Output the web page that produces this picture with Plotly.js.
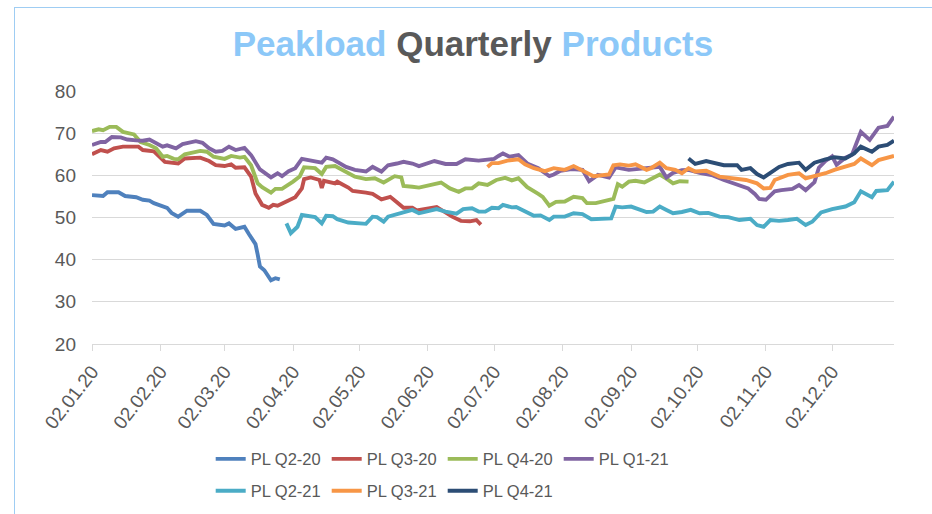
<!DOCTYPE html>
<html><head><meta charset="utf-8">
<script src="https://cdn.plot.ly/plotly-3.0.1.min.js"></script>
<style>
html,body{margin:0;padding:0;background:#fff;}
#wrap{position:relative;width:932px;height:514px;overflow:hidden;}
#chart{width:932px;height:514px;}
#frame{position:absolute;left:14px;top:7px;width:940px;height:560px;border:1px solid #9fcdf3;pointer-events:none;}
</style></head>
<body><div id="wrap"><div id="chart"></div><div id="frame"></div></div>
<script>
const tickDates = ['2020-01-02','2020-02-02','2020-03-02','2020-04-02','2020-05-02','2020-06-02','2020-07-02','2020-08-02','2020-09-02','2020-10-02','2020-11-02','2020-12-02'];
const tickLabels = ['02.01.20','02.02.20','02.03.20','02.04.20','02.05.20','02.06.20','02.07.20','02.08.20','02.09.20','02.10.20','02.11.20','02.12.20'];
const seriesNames = ['PL Q2-20','PL Q3-20','PL Q4-20','PL Q1-21','PL Q2-21','PL Q3-21','PL Q4-21'];

const q220Dates = ['01-02','01-07','01-09','01-14','01-17','01-22','01-25','01-28','01-30','02-05','02-07','02-10','02-14','02-20','02-23','02-26','03-02','03-04','03-07','03-11','03-13','03-16','03-17','03-18','03-20','03-23','03-25','03-27'];
const q220Values = [55.3,55.1,56.0,56.0,55.1,54.8,54.2,54.0,53.4,52.3,51.1,50.2,51.6,51.6,50.6,48.5,48.1,48.6,47.3,47.8,46.1,43.7,41.2,38.4,37.5,35.1,35.6,35.3];

const q320Dates = ['01-02','01-06','01-09','01-12','01-16','01-19','01-23','01-25','01-30','02-04','02-10','02-13','02-20','02-24','02-27','03-02','03-05','03-07','03-11','03-14','03-16','03-19','03-22','03-24','03-26','03-30','04-03','04-06','04-07','04-10','04-14','04-15','04-16','04-21','04-22','04-27','04-29','05-05','05-08','05-12','05-16','05-19','05-22','05-26','05-28','06-06','06-09','06-13','06-17','06-21','06-24','06-26'];
const q320Values = [65.0,66.0,65.6,66.4,66.8,66.8,66.8,66.0,65.7,63.2,62.8,64.0,64.2,63.4,62.4,62.2,62.6,61.8,61.9,59.7,55.7,53.0,52.3,53.0,52.8,53.8,54.8,56.9,59.1,59.5,58.9,57.0,58.7,58.1,58.5,57.1,56.3,55.9,55.6,54.3,54.9,53.6,52.3,52.3,51.7,52.5,51.5,50.2,49.2,49.1,49.4,48.3];

const q420Dates = ['01-02','01-05','01-07','01-10','01-13','01-16','01-21','01-24','01-28','01-31','02-03','02-05','02-08','02-10','02-13','02-20','02-23','02-26','03-02','03-05','03-09','03-11','03-14','03-17','03-19','03-23','03-25','03-28','04-02','04-05','04-07','04-12','04-15','04-17','04-21','04-26','04-30','05-05','05-09','05-13','05-18','05-21','05-22','05-26','05-29','06-08','06-12','06-16','06-19','06-22','06-25','06-29','07-03','07-07','07-10','07-13','07-17','07-22','07-24','07-27','07-30','08-03','08-07','08-11','08-13','08-17','08-23','08-25','08-27','08-29','09-01','09-04','09-08','09-12','09-15','09-18','09-21','09-24','09-28'];
const q420Values = [70.5,70.9,70.7,71.5,71.5,70.3,69.7,67.9,67.2,66.4,64.4,64.6,63.9,63.8,65.0,65.8,65.6,64.4,63.9,64.6,64.2,64.4,62.4,58.1,57.2,55.9,56.8,56.8,58.5,59.7,61.9,61.7,60.3,62.0,62.2,60.9,59.7,59.1,59.3,58.3,59.8,59.5,57.5,57.3,57.1,58.3,56.9,56.1,56.9,56.9,58.1,57.7,58.9,59.4,58.8,59.3,57.2,55.6,54.9,52.8,53.7,53.8,54.9,54.6,53.4,53.4,54.2,54.4,57.9,57.3,58.5,58.7,58.3,59.3,60.2,59.2,58.1,58.6,58.5];

const q121Dates = ['01-02','01-06','01-08','01-11','01-15','01-18','01-22','01-25','01-28','01-30','02-03','02-05','02-09','02-12','02-18','02-21','02-24','02-27','03-01','03-04','03-07','03-11','03-14','03-18','03-23','03-26','03-28','03-31','04-03','04-06','04-12','04-15','04-17','04-20','04-26','04-30','05-05','05-08','05-12','05-15','05-19','05-22','05-26','05-29','06-05','06-10','06-15','06-19','06-25','06-29','07-02','07-04','07-06','07-09','07-13','07-17','07-22','07-24','07-27','07-29','08-01','08-06','08-11','08-14','08-18','08-23','08-26','09-01','09-09','09-15','09-18','09-21','09-25','09-28','10-03','10-09','10-14','10-20','10-25','10-28','10-30','11-02','11-04','11-06','11-09','11-14','11-17','11-20','11-24','11-26','11-29','12-02','12-04','12-08','12-11','12-14','12-15','12-19','12-23','12-27','12-30'];
const q121Values = [67.2,67.9,67.9,69.1,69.0,68.5,68.3,68.2,68.5,67.9,66.8,67.1,66.4,67.4,68.1,67.7,66.4,65.6,65.8,66.8,66.0,66.5,64.8,61.4,59.5,60.5,59.8,61.0,61.7,63.9,63.4,63.0,64.2,63.8,62.0,61.3,60.9,62.0,60.9,62.4,62.8,63.2,62.8,62.2,63.4,62.7,62.7,63.8,63.5,63.6,63.9,64.6,65.2,64.4,64.8,62.8,61.7,60.9,59.8,60.2,61.1,61.5,61.3,58.6,60.1,59.5,61.9,61.3,61.7,62.0,59.5,60.6,61.2,61.3,60.6,60.0,58.9,57.8,56.9,55.6,54.4,54.2,55.3,56.2,56.5,56.8,57.7,56.5,58.4,61.8,63.4,64.5,62.5,64.2,64.9,69.1,70.3,68.4,71.3,71.7,73.9];

const q221Dates = ['03-30','04-01','04-04','04-06','04-12','04-15','04-17','04-20','04-22','04-27','05-05','05-08','05-10','05-13','05-15','05-21','05-26','05-29','06-06','06-10','06-15','06-18','06-22','06-25','06-28','07-01','07-04','07-06','07-10','07-12','07-16','07-20','07-23','07-27','07-29','08-03','08-07','08-11','08-15','08-18','08-24','08-26','08-29','09-02','09-09','09-12','09-15','09-18','09-21','09-25','09-29','10-03','10-07','10-12','10-16','10-21','10-26','10-29','11-01','11-04','11-08','11-12','11-16','11-20','11-23','11-27','12-02','12-08','12-12','12-15','12-20','12-22','12-27','12-30'];
const q221Values = [48.6,46.3,47.8,50.6,50.1,48.6,50.4,50.3,49.6,48.8,48.5,50.2,50.1,49.0,50.2,51.2,51.8,51.0,52.0,51.4,50.9,52.0,52.2,51.4,51.4,52.3,52.2,53.0,52.4,52.5,51.4,50.4,50.5,49.4,50.2,50.2,51.0,50.8,49.6,49.7,49.8,52.6,52.4,52.6,51.3,51.4,52.6,51.8,51.0,51.3,51.8,51.0,51.1,50.2,50.1,49.4,49.7,48.2,47.8,49.4,49.2,49.4,49.7,48.2,49.0,51.2,52.0,52.6,53.6,56.2,54.8,56.3,56.5,58.5];

const q321Dates = ['06-29','07-01','07-04','07-08','07-13','07-16','07-20','07-25','07-29','08-03','08-07','08-12','08-16','08-23','08-25','08-28','09-01','09-04','09-09','09-11','09-15','09-18','09-22','09-25','09-28','10-01','10-06','10-12','10-18','10-24','10-29','11-01','11-04','11-06','11-12','11-17','11-20','11-24','11-29','12-03','12-08','12-12','12-15','12-20','12-23','12-30'];
const q321Values = [62.0,62.9,62.9,63.5,63.8,62.6,61.7,61.0,61.7,61.3,62.2,60.9,59.8,60.2,62.4,62.6,62.3,62.6,61.3,61.7,63.0,61.7,61.3,60.5,61.7,60.9,61.1,59.7,59.3,58.9,58.1,56.9,57.0,58.9,60.1,60.5,59.3,59.8,60.5,61.3,62.0,62.7,64.0,62.4,63.6,64.6];

const q421Dates = ['09-28','10-01','10-06','10-09','10-14','10-20','10-22','10-26','10-29','11-01','11-04','11-08','11-12','11-17','11-20','11-24','11-29','12-03','12-08','12-12','12-15','12-20','12-23','12-27','12-30'];
const q421Values = [64.0,62.7,63.4,63.0,62.4,62.4,61.3,61.7,60.3,59.5,60.5,62.0,62.7,63.0,61.3,63.0,63.8,64.3,64.0,65.2,66.8,65.6,66.8,67.2,68.2];

const colors = ['#4F81BD','#C0504D','#9BBB59','#8064A2','#4BACC6','#F79646','#2C4D75'];
const allDates = [q220Dates,q320Dates,q420Dates,q121Dates,q221Dates,q321Dates,q421Dates];
const allValues = [q220Values,q320Values,q420Values,q121Values,q221Values,q321Values,q421Values];

const traces = seriesNames.map((n,i)=>({
  type:'scatter', mode:'lines', name:n,
  x: allDates[i].map(d=>'2020-'+d), y: allValues[i],
  line:{color:colors[i], width:3.9},
  legend: i<4 ? 'legend' : 'legend2',
  hoverinfo:'x+y+name'
}));

const legendBase = {orientation:'h', xanchor:'left', yanchor:'middle', font:{family:'Liberation Sans, Arial, sans-serif', size:16.5, color:'#595959'}, bgcolor:'rgba(0,0,0,0)', entrywidth:71, entrywidthmode:'pixels', tracegroupgap:0, itemwidth:30};

const layout = {
  width:932, height:514,
  margin:{l:92, r:38, t:91, b:170, autoexpand:false},
  paper_bgcolor:'rgba(0,0,0,0)', plot_bgcolor:'#fff',
  font:{family:'Liberation Sans, Arial, sans-serif', color:'#595959'},
  title:{
    text:'<b><span style="color:#8cc8f8">Peakload</span> <span style="color:#595959">Quarterly</span> <span style="color:#8cc8f8">Products</span></b>',
    font:{family:'Liberation Sans, Arial, sans-serif', size:35},
    x:0.5075, xref:'container', xanchor:'center',
    y:0.915, yref:'container', yanchor:'middle'
  },
  xaxis:{
    type:'date', range:['2020-01-02','2020-12-30'],
    tickmode:'array', tickvals:tickDates, ticktext:tickLabels,
    tickangle:-52, tickfont:{size:19, color:'#595959'},
    showgrid:false, showline:true, linecolor:'#d9d9d9', linewidth:1,
    ticks:'outside', ticklen:6, tickcolor:'#d9d9d9', tickwidth:1,
    ticklabelstandoff:2, automargin:false,
    zeroline:false, fixedrange:true
  },
  yaxis:{
    range:[20,80], tickvals:[20,30,40,50,60,70,80],
    tickfont:{size:19, color:'#595959'},
    showgrid:true, gridcolor:'#d9d9d9', gridwidth:1, automargin:false,
    showline:false, ticks:'', zeroline:false, ticklabelstandoff:15, fixedrange:true
  },
  showlegend:true,
  legend: Object.assign({}, legendBase, {x:0.148, y:-0.455}),
  legend2: Object.assign({}, legendBase, {x:0.148, y:-0.581})
};

Plotly.newPlot('chart', traces, layout, {displayModeBar:false, staticPlot:true});
</script>
</body></html>
